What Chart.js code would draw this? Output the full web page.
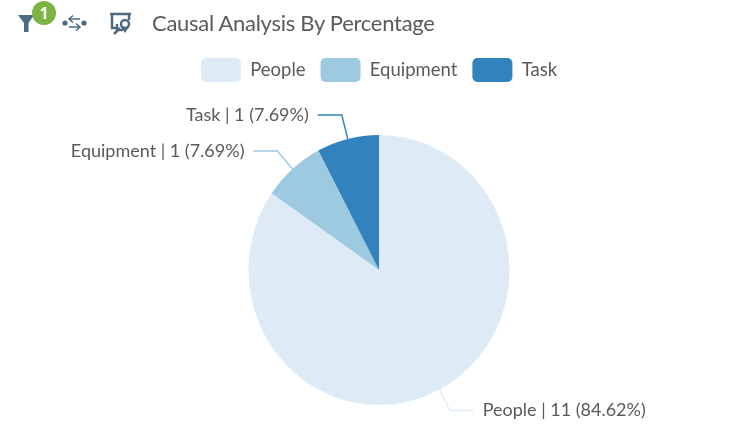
<!DOCTYPE html>
<html>
<head>
<meta charset="utf-8">
<title>Causal Analysis By Percentage</title>
<script src="https://cdn.jsdelivr.net/npm/chart.js@4"></script>
<style>
  html, body { margin: 0; padding: 0; background: #fff; overflow: hidden; }
  #wrap { position: relative; width: 731px; height: 444px; overflow: hidden; }
  #pie { position: absolute; left: 0; top: 0; }
  #title { position: absolute; left: 152px; top: 9px; font: 22px Lato, sans-serif; letter-spacing: -0.28px; color: #5a5a5a; white-space: nowrap; }
  #icons { position: absolute; left: 0; top: 0; }
</style>
</head>
<body>
<div id="wrap">
  <canvas id="pie" width="731" height="448"></canvas>
  <svg id="icons" width="140" height="40">
    <path d="M18 15 H34 L28.5 23 V32 H24 V23 Z" fill="#4d6a80"/>
    <circle cx="44" cy="13" r="12" fill="#7cb342"/>
    <text x="44" y="19" text-anchor="middle" font-family="Noto Sans" font-weight="700" font-size="16" fill="#fff">1</text>
    <circle cx="65" cy="23" r="2.6" fill="#4d6a80"/>
    <circle cx="84" cy="23" r="2.6" fill="#4d6a80"/>
    <path d="M80 19 H69 M73 15.500 L69 19 L73 22.500 M69 27 H80 M76 23.500 L80 27 L76 30.500" fill="none" stroke="#4d6a80" stroke-width="1.500"/>
    <path d="M110 14 H131 M112 14 V28 H118 M129 14 V20" fill="none" stroke="#4d6a80" stroke-width="2.500"/>
    <path d="M114 34 L120 28 M117 24 V30 H123" fill="none" stroke="#4d6a80" stroke-width="2.500"/>
    <circle cx="125" cy="24" r="4" fill="none" stroke="#4d6a80" stroke-width="2.500"/>
    <path d="M121 27 L125 33 L129 27 Z" fill="#4d6a80"/>
  </svg>
  <div id="title">Causal Analysis By Percentage</div>
</div>
<script>
// ---- DATA ----
const categories = ['People', 'Equipment', 'Task'];
const counts = [11, 1, 1];
const percents = ['84.62', '7.69', '7.69'];
const colors = ['#deebf7', '#9ecae1', '#3182bd'];

const TEXT_COLOR = '#5a5a5a';
const FONT = "Lato, sans-serif";

// reference pie is slightly taller than wide
const Y_STRETCH = 135 / 130.5;

const stretchPie = {
  id: 'stretchPie',
  beforeDatasetsDraw(chart) {
    const arc = chart.getDatasetMeta(0).data[0];
    const ctx = chart.ctx;
    ctx.save();
    ctx.translate(0, arc.y);
    ctx.scale(1, Y_STRETCH);
    ctx.translate(0, -arc.y);
  },
  afterDatasetsDraw(chart) {
    chart.ctx.restore();
  }
};

// ---- LEADER LINES + LABELS ----
const elbowOffsets = [[10, 21, 24], [-15, -18, -24], [-6, -24, -24]];

const sliceLabels = {
  id: 'sliceLabels',
  afterDraw(chart) {
    const ctx = chart.ctx;
    chart.getDatasetMeta(0).data.forEach((arc, i) => {
      const mid = (arc.startAngle + arc.endAngle) / 2;
      const sx = arc.x + Math.cos(mid) * arc.outerRadius;
      const sy = arc.y + Math.sin(mid) * arc.outerRadius * Y_STRETCH;
      const [dx, dy, run] = elbowOffsets[i];
      const ex = sx + dx;
      const ey = sy + dy;

      ctx.save();
      ctx.strokeStyle = colors[i];
      ctx.lineWidth = 1.5;
      ctx.beginPath();
      ctx.moveTo(sx, sy);
      ctx.lineTo(ex, ey);
      ctx.lineTo(ex + run, ey);
      ctx.stroke();

      ctx.fillStyle = TEXT_COLOR;
      ctx.font = `18px ${FONT}`;
      ctx.textBaseline = 'middle';
      ctx.textAlign = run < 0 ? 'right' : 'left';
      const gap = run < 0 ? -9 : 9;
      ctx.fillText(`${categories[i]} | ${counts[i]} (${percents[i]}%)`, ex + run + gap, ey);
      ctx.restore();
    });
  }
};

new Chart(document.getElementById('pie'), {
  type: 'pie',
  data: {
    labels: categories,
    datasets: [{
      data: counts,
      backgroundColor: colors,
      borderWidth: 0,
      radius: 130.5,
    }]
  },
  options: {
    responsive: false,
    animation: false,
    layout: { padding: { top: 43, left: 27 } },
    plugins: {
      tooltip: { enabled: false },
      legend: {
        position: 'top',
        labels: {
          color: TEXT_COLOR,
          font: { family: FONT, size: 18.5 },
          boxWidth: 40,
          boxHeight: 24,
          useBorderRadius: true,
          borderRadius: 5,
          padding: 15,
        }
      }
    }
  },
  plugins: [stretchPie, sliceLabels]
});
</script>
</body>
</html>
